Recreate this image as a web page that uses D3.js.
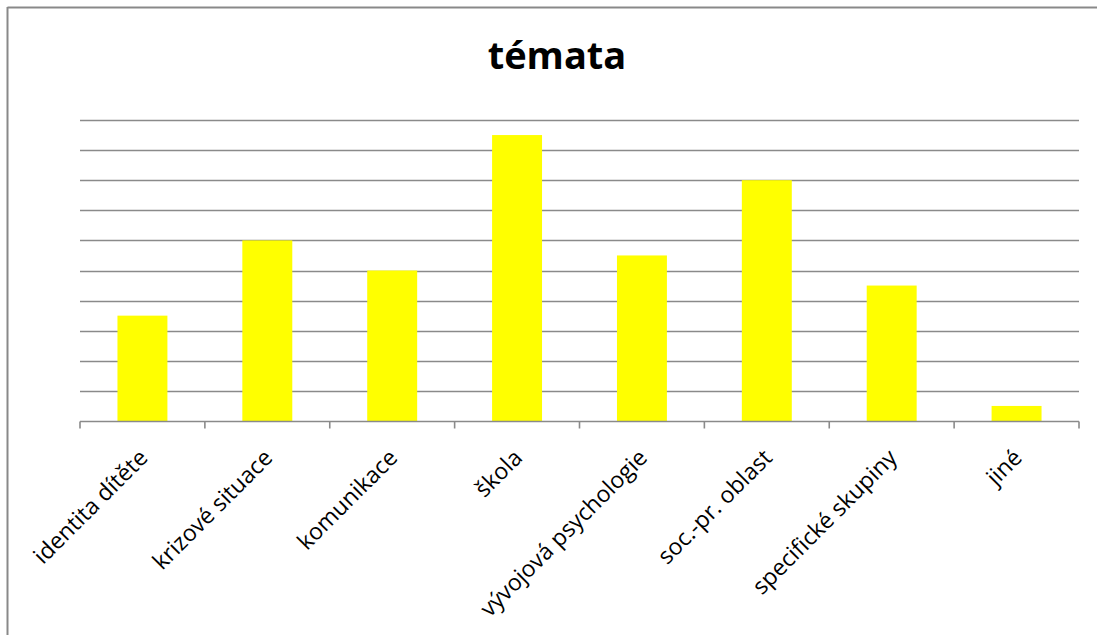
<!DOCTYPE html>
<html><head><meta charset="utf-8">
<script src="https://cdn.jsdelivr.net/npm/d3@7"></script>
<style>body{margin:0;background:#fff}svg{display:block}</style>
</head><body>
<svg id="c" width="1097" height="635"></svg>
<script>
const categories = ["identita dítěte","krizové situace","komunikace","škola","vývojová psychologie","soc.-pr. oblast","specifické skupiny","jiné"];
const values = [3.5, 6, 5, 9.5, 5.5, 8, 4.5, 0.5];
const gridTicks = [1,2,3,4,5,6,7,8,9,10];
const title = "témata";

const svg = d3.select("#c");
const W = 1097, H = 635;
const m = {left:80, right:18, top:120, bottom:214};
const xb = d3.scaleBand().domain(categories).range([m.left, W - m.right]);
const y = d3.scaleLinear().domain([0,10]).range([H - m.bottom, m.top]);

// frame
svg.append("line").attr("x1",7.5).attr("x2",W).attr("y1",7.5).attr("y2",7.5).attr("stroke","#898989").attr("stroke-width",2);
svg.append("line").attr("x1",7.5).attr("x2",7.5).attr("y1",7).attr("y2",H).attr("stroke","#898989").attr("stroke-width",2);

// gridlines
svg.append("g").selectAll("line").data(gridTicks).join("line")
  .attr("x1", m.left).attr("x2", W - m.right)
  .attr("y1", d => Math.round(y(d))+0.5).attr("y2", d => Math.round(y(d))+0.5)
  .attr("stroke","#8a8a8a").attr("stroke-width",1.6);

// bars
svg.append("g").selectAll("rect").data(categories).join("rect")
  .attr("x", d => xb(d) + xb.bandwidth()*0.3)
  .attr("width", xb.bandwidth()*0.4)
  .attr("y", (d,i) => y(values[i]))
  .attr("height", (d,i) => y(0) - y(values[i]))
  .attr("fill", "#ffff00");

// x axis baseline & ticks
const base = Math.round(y(0)) + 0.5;
svg.append("line").attr("x1", m.left).attr("x2", W - m.right).attr("y1", base).attr("y2", base)
  .attr("stroke","#8a8a8a").attr("stroke-width",1.6);
const edges = categories.map(c => xb(c)).concat([W - m.right]);
svg.append("g").selectAll("line").data(edges).join("line")
  .attr("x1", d => d).attr("x2", d => d).attr("y1", base).attr("y2", base + 7)
  .attr("stroke","#8a8a8a").attr("stroke-width",1.6);

// labels
svg.append("g").selectAll("text").data(categories).join("text")
  .attr("transform", d => `translate(${xb(d) + xb.bandwidth()/2 + 1},${base + 32}) rotate(-45)`)
  .attr("text-anchor","end")
  .attr("dy","0.35em")
  .style("font-family","'Open Sans', sans-serif")
  .style("font-size","23px")
  .attr("fill","#000")
  .text(d => d);

// title
svg.append("text").attr("x", 557).attr("y", 69).attr("text-anchor","middle")
  .style("font-family","'Open Sans', sans-serif").style("font-weight","bold").style("font-size","38px")
  .text(title);
</script>
</body></html>
